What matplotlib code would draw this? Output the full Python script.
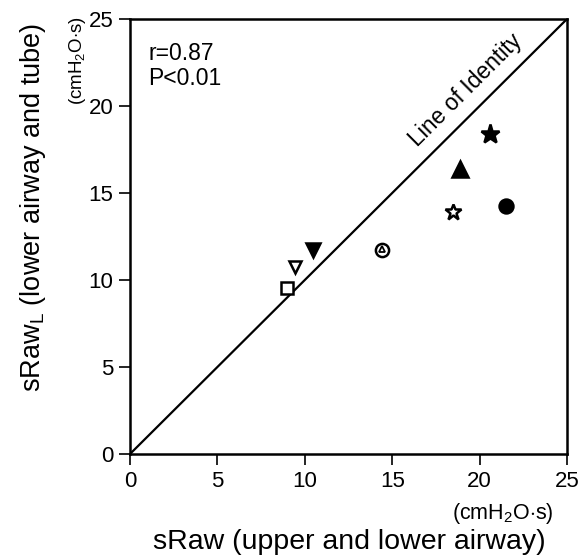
import matplotlib
matplotlib.use("Agg")
import matplotlib.pyplot as plt
import numpy as np

plt.rcParams['font.family'] = ['Liberation Sans', 'DejaVu Sans']
plt.rcParams['mathtext.fontset'] = 'custom'
plt.rcParams['mathtext.rm'] = 'Liberation Sans'

# Data: (x, y) per subject, marker style
x_vals = [20.6, 18.9, 18.5, 21.5, 10.45, 9.44, 8.96, 14.43]
y_vals = [18.4, 16.4, 13.9, 14.25, 11.72, 10.75, 9.56, 11.72]
markers = ['*', '^', '*', 'o', 'v', 'v', 's', 'o']
filled = [True, True, False, True, True, False, False, False]
sizes = [14, 11, 12, 10, 10, 8.5, 8, 9.5]
ticks = [0, 5, 10, 15, 20, 25]

W, H = 581, 557
fig = plt.figure(figsize=(W/100, H/100), dpi=100)
ax = fig.add_axes([130/W, 1-454/H, 437/W, 435/H])
ax.set_xlim(0, 25)
ax.set_ylim(0, 25)

ax.plot([0, 25], [0, 25], color='black', lw=1.6, zorder=1)

for x, y, m, f, s in zip(x_vals, y_vals, markers, filled, sizes):
    ax.plot(x, y, marker=m, markersize=s, linestyle='none',
            markerfacecolor='black' if f else 'white',
            markeredgecolor='black', markeredgewidth=1.8, zorder=3)
# triangle inside the circle marker
ax.plot(x_vals[7], y_vals[7] + 0.05, marker='^', markersize=5, linestyle='none',
        markerfacecolor='white', markeredgecolor='black', markeredgewidth=1.3, zorder=4)

for sp in ax.spines.values():
    sp.set_linewidth(1.8)
ax.set_xticks(ticks)
ax.set_yticks(ticks)
ax.tick_params(direction='out', length=8, width=1.2, labelsize=16, pad=4)

fig.text(148/W, 1-60/H, 'r=0.87', fontsize=16.5, va='baseline', ha='left')
fig.text(148/W, 1-85/H, 'P<0.01', fontsize=16.5, va='baseline', ha='left')

ax.text(19.45, 20.65, 'Line of Identity', rotation=44.9, rotation_mode='anchor',
        ha='center', va='baseline', fontsize=16.5)

fig.text(503/W, 1-513/H, '(cmH$_2$O$\\cdot$s)', ha='center', va='center', fontsize=15.5)
fig.text(77/W, 1-60/H, '(cmH$_2$O$\\cdot$s)', ha='center', va='center', fontsize=13.5, rotation=90)
fig.text(349/W, 1-549/H, 'sRaw (upper and lower airway)', ha='center', va='baseline', fontsize=20.5)
fig.text(33/W, 1-207/H, 'sRaw$_\\mathregular{L}$ (lower airway and tube)', ha='center', va='center',
         fontsize=19.5, rotation=90)

fig.savefig('out.png', dpi=100)
